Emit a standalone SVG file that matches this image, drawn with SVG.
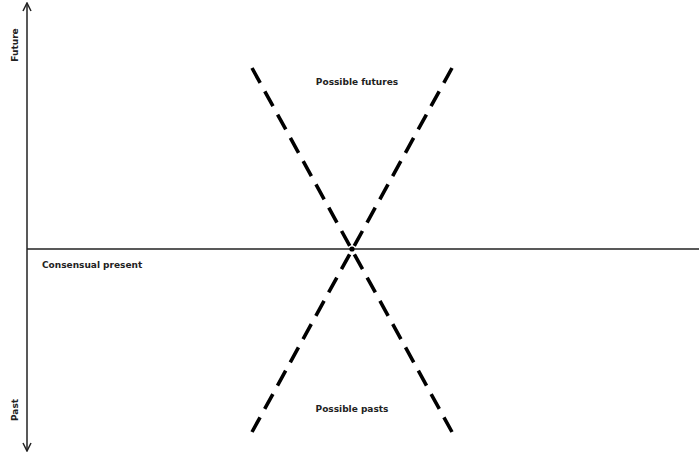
<svg xmlns="http://www.w3.org/2000/svg" width="699" height="454" viewBox="0 0 699 454">
  <style>
    .axis { stroke: #222; stroke-width: 1.5; fill: none; }
    .cone { stroke: #000; stroke-width: 3.6; stroke-dasharray: 17 9.57; fill: none; }
    .lbl { font-family: "DejaVu Sans", "Liberation Sans", sans-serif; font-weight: bold; font-size: 9px; fill: #222; }
  </style>
  <defs>
    <marker id="arrow" viewBox="0 0 10 10" refX="9" refY="5" markerWidth="10" markerHeight="10" markerUnits="userSpaceOnUse" orient="auto">
      <path d="M1,1 L9,5 L1,9" fill="none" stroke="#222" stroke-width="1.5"/>
    </marker>
  </defs>
  <rect width="699" height="454" fill="#fff"/>
  <g id="connectors">
    <line class="axis" x1="27" y1="226" x2="27" y2="3" marker-end="url(#arrow)"/>
    <line class="axis" x1="27" y1="226" x2="27" y2="451" marker-end="url(#arrow)"/>
    <line class="axis" x1="27" y1="249" x2="699" y2="249"/>
    <line class="cone" x1="252" y1="68" x2="452" y2="432"/>
    <line class="cone" x1="452" y1="68" x2="252" y2="432"/>
  </g>
  <g id="present-point">
    <circle cx="352" cy="249" r="2.6" fill="#000"/>
  </g>
  <g id="axis-future">
    <text class="lbl" transform="translate(18,45) rotate(-90)" text-anchor="middle">Future</text>
  </g>
  <g id="axis-past">
    <text class="lbl" transform="translate(18,410) rotate(-90)" text-anchor="middle">Past</text>
  </g>
  <g id="consensual-present">
    <text class="lbl" x="42" y="268">Consensual present</text>
  </g>
  <g id="possible-futures">
    <text class="lbl" x="357" y="85" text-anchor="middle">Possible futures</text>
  </g>
  <g id="possible-pasts">
    <text class="lbl" x="352" y="412" text-anchor="middle">Possible pasts</text>
  </g>
</svg>
